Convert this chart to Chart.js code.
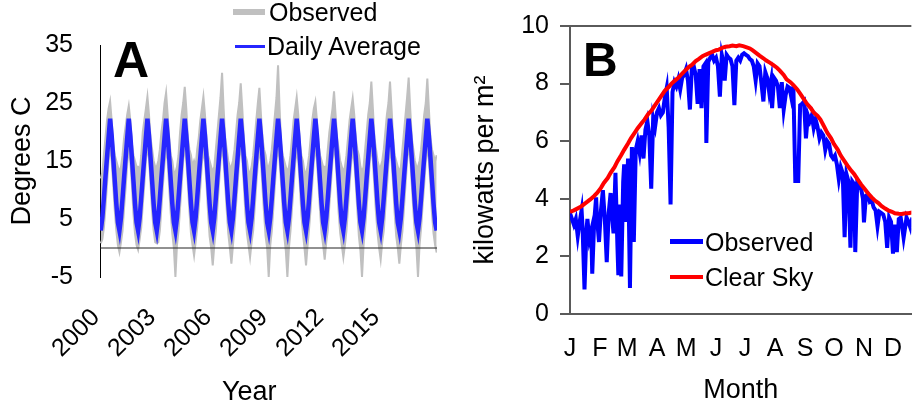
<!DOCTYPE html>
<html>
<head>
<meta charset="utf-8">
<title>Temperature and solar radiation</title>
<script src="https://cdn.jsdelivr.net/npm/chart.js@4.4.1/dist/chart.umd.min.js"></script>
<style>
  body { margin: 0; background: #fff; }
  #wrap { position: relative; width: 922px; height: 410px; overflow: hidden;
          font-family: 'Liberation Sans', Arial, sans-serif; color: #000; }
  canvas { position: absolute; top: 0; }
  .lbl { position: absolute; white-space: nowrap; font-size: 25px; line-height: 30px; }
  .bar { position: absolute; }
  .panel { position: absolute; font-weight: bold; line-height: 1; }
</style>
</head>
<body>
<div id="wrap">
  <canvas id="tempChart" width="460" height="410" style="left:0"></canvas>
  <canvas id="solarChart" width="462" height="410" style="left:460px"></canvas>

  <div class="panel" style="left:113px; top:35px; font-size:50px;">A</div>
  <div class="bar" style="left:233px; top:9px; width:32px; height:6px; background:#c0c0c0;"></div>
  <div class="lbl" style="left:269px; top:-3px;">Observed</div>
  <div class="bar" style="left:235px; top:45px; width:30px; height:3px; background:#2626ff;"></div>
  <div class="lbl" style="left:267px; top:31px;">Daily Average</div>
  <div class="lbl" style="left:222px; top:375px; font-size:27px; line-height:32px;">Year</div>

  <div class="panel" style="left:583px; top:36px; font-size:48px;">B</div>
  <div class="bar" style="left:670px; top:239px; width:33px; height:5px; background:#0000ff;"></div>
  <div class="lbl" style="left:705px; top:227px;">Observed</div>
  <div class="bar" style="left:670px; top:275px; width:33px; height:4px; background:#ff0000;"></div>
  <div class="lbl" style="left:705px; top:262px;">Clear Sky</div>
</div>
<script>
Chart.defaults.font.family = "'Liberation Sans', Arial, sans-serif";
Chart.defaults.color = '#000';

// ---- panel A : air temperature ----
var firstYear = 2000;
var yearTicks = [2000, 2003, 2006, 2009, 2012, 2015];
var tempTicks = [-5, 5, 15, 25, 35];

// daily average by month of the year (the same curve every year)
var dailyAvgByMonth = [3.0, 5.2, 8.6, 12.2, 15.6, 19.0, 22.3, 19.4, 15.6, 11.6, 7.6, 4.4];

// observed daily values: top and bottom of the spread, one row per year, Jan..Dec
var obsHigh = [
  [12, 13, 16, 19, 22, 24, 25.3, 22, 18, 16, 15, 14],
  [13, 14, 16, 19, 21, 23, 24.5, 22, 18, 16, 15, 14],
  [14, 13, 16, 20, 22, 24, 26.1, 23, 19, 17, 15, 14],
  [14, 15, 17, 20, 22, 25, 26.8, 23, 19, 16, 15, 13],
  [13, 14, 16, 20, 23, 25, 27.8, 24, 19, 17, 16, 14],
  [15, 14, 17, 19, 22, 24, 26.1, 23, 19, 16, 15, 14],
  [13, 14, 17, 20, 23, 26, 30.2, 24, 19, 17, 15, 14],
  [14, 15, 17, 20, 23, 25, 28.4, 24, 19, 16, 15, 13],
  [13, 14, 16, 19, 22, 25, 27.6, 23, 19, 17, 16, 14],
  [14, 15, 17, 20, 23, 26, 31.5, 24, 18, 16, 15, 14],
  [13, 14, 16, 19, 22, 24, 26.0, 23, 18, 16, 15, 13],
  [13, 14, 16, 19, 22, 24, 25.2, 22, 18, 16, 15, 14],
  [14, 14, 17, 20, 22, 24, 27.0, 23, 19, 17, 15, 14],
  [13, 14, 16, 19, 22, 24, 25.8, 23, 19, 17, 16, 14],
  [13, 14, 17, 20, 23, 25, 28.7, 24, 19, 17, 15, 14],
  [14, 15, 17, 20, 23, 25, 28.7, 24, 19, 16, 15, 14],
  [13, 14, 17, 20, 23, 26, 29.4, 24, 19, 17, 15, 14],
  [14, 15, 17, 20, 23, 25, 29.2, 24, 19, 17, 16, 15],
  [16]
];
var obsLow = [
  [0.8, 1.5, 3.5, 7, 11, 15, 17.5, 15, 11, 6.5, 3, 0.5],
  [-0.7, 1, 3, 7, 10.5, 14.5, 17, 15, 11, 6, 2.5, 0.5],
  [-0.3, 1.5, 3.5, 7.5, 11, 15, 17.5, 15.5, 11, 6.5, 3, 1],
  [0.8, 1, 3, 7, 11, 14.5, 17, 15, 10.5, 6, 2.5, 0],
  [-5, 0.5, 3, 7, 11, 15, 17.5, 15, 11, 6.5, 2.5, 0.5],
  [-1.3, 1, 3.5, 7, 10.5, 14.5, 17, 15, 11, 6, 2, 0],
  [-3, 0.5, 3, 7, 11, 15, 17.5, 15, 11, 6.5, 2.5, 0],
  [-2.7, 0.5, 3.5, 7.5, 11, 15, 17.5, 15.5, 11, 6, 2.5, 0.5],
  [-1.6, 1, 3, 7, 11, 14.5, 17, 15, 10.5, 6, 2, 0],
  [-5, 0.5, 3, 7, 11, 15, 17.5, 15, 11, 6.5, 2, -0.5],
  [-5, 0, 3, 7, 10.5, 14.5, 17, 15, 11, 6, 2.5, 0],
  [-3, 0.5, 3.5, 7, 11, 15, 17.5, 15, 11, 6.5, 2.5, 0.5],
  [-2, 1, 3, 7.5, 11, 15, 17.5, 15.5, 11, 6, 2.5, 0.5],
  [-1.6, 0.5, 3, 7, 11, 14.5, 17, 15, 11, 6.5, 2, -0.5],
  [-5, 0.5, 3.5, 7, 11, 15, 17.5, 15, 10.5, 6, 2.5, 0],
  [-2, 1, 3, 7, 10.5, 14.5, 17, 15, 11, 6, 2, 0],
  [-2.7, 0.5, 3, 7, 11, 15, 17.5, 15.5, 11, 6.5, 2.5, 0],
  [-5, 0.5, 3.5, 7.5, 11, 15, 17.5, 15, 11, 6, 2.5, 0.5],
  [-0.8]
];
var lastYearValue = 2018.06;

// ---- panel B : solar radiation ----
var monthStarts = [0, 31, 59, 90, 120, 151, 181, 212, 243, 273, 304, 334];
var monthLetters = ['J', 'F', 'M', 'A', 'M', 'J', 'J', 'A', 'S', 'O', 'N', 'D'];
var kwTicks = [0, 2, 4, 6, 8, 10];

// [day of year, kW per m2]
var clearSkyKw = [
  [0, 3.55], [4, 3.6], [7, 3.65], [11, 3.72], [14, 3.8], [18, 3.9], [21, 3.98], [25, 4.1],
  [28, 4.2], [32, 4.38], [35, 4.55], [39, 4.72], [42, 4.9], [46, 5.1], [49, 5.3], [53, 5.52],
  [56, 5.7], [60, 5.92], [63, 6.1], [67, 6.3], [70, 6.45], [74, 6.62], [77, 6.75], [81, 6.95],
  [84, 7.05], [88, 7.25], [91, 7.4], [95, 7.6], [98, 7.75], [102, 7.88], [105, 8.0], [109, 8.12],
  [112, 8.2], [116, 8.35], [119, 8.45], [123, 8.58], [126, 8.65], [130, 8.78], [133, 8.85],
  [137, 8.95], [140, 9.0], [144, 9.06], [147, 9.1], [151, 9.16], [154, 9.18], [158, 9.25],
  [161, 9.28], [165, 9.3], [168, 9.32], [172, 9.3], [175, 9.33], [179, 9.3], [182, 9.27],
  [186, 9.22], [189, 9.15], [193, 9.05], [196, 8.97], [200, 8.88], [203, 8.8], [207, 8.72],
  [210, 8.65], [214, 8.55], [217, 8.45], [221, 8.3], [224, 8.15], [228, 8.05], [231, 7.95],
  [235, 7.8], [238, 7.65], [242, 7.45], [245, 7.3], [249, 7.15], [252, 7.0], [256, 6.88],
  [259, 6.75], [263, 6.5], [266, 6.3], [270, 6.1], [273, 5.9], [277, 5.7], [280, 5.5],
  [284, 5.3], [287, 5.15], [291, 4.97], [294, 4.85], [298, 4.65], [301, 4.5], [305, 4.33],
  [308, 4.2], [312, 4.05], [315, 3.95], [319, 3.85], [322, 3.75], [326, 3.66], [329, 3.6],
  [333, 3.55], [336, 3.5], [340, 3.48], [343, 3.47], [347, 3.5], [350, 3.5], [354, 3.53],
  [357, 3.55], [364, 3.55]
];
var observedKw = [
  [0, 3.5], [2, 3.3], [4, 3.1], [6, 3.3], [8, 2.7], [10, 3.2], [12, 3.6], [13, 3.0], [15, 0.85],
  [17, 2.9], [18, 3.3], [20, 2.6], [22, 2.9], [23, 1.4], [25, 3.2], [27, 4.05], [28, 3.3],
  [30, 2.5], [32, 3.6], [34, 4.3], [36, 3.3], [38, 1.8], [40, 3.5], [42, 4.2], [44, 3.2],
  [45, 2.8], [47, 4.9], [49, 2.4], [50, 1.35], [52, 3.8], [53, 1.3], [55, 4.6], [56, 5.2],
  [58, 3.2], [60, 5.4], [62, 0.9], [64, 5.8], [66, 2.5], [68, 5.7], [70, 6.0], [72, 5.6],
  [74, 6.2], [76, 5.4], [78, 6.4], [80, 6.7], [82, 6.2], [84, 4.35], [86, 6.8], [88, 6.5],
  [90, 7.0], [92, 7.15], [94, 6.9], [96, 7.0], [98, 7.5], [100, 7.85], [102, 6.5], [104, 3.8],
  [106, 7.7], [108, 8.05], [110, 7.9], [112, 8.15], [114, 7.8], [116, 8.2], [118, 8.3],
  [120, 8.5], [122, 8.1], [124, 7.1], [126, 8.55], [128, 8.6], [130, 8.3], [132, 7.3],
  [134, 8.5], [136, 7.15], [138, 8.6], [140, 8.7], [141, 5.94], [143, 8.75], [145, 8.9],
  [147, 9.0], [149, 8.8], [151, 8.9], [153, 8.6], [155, 7.55], [157, 9.0], [159, 8.7],
  [160, 8.1], [162, 9.0], [164, 8.9], [166, 8.85], [168, 8.6], [170, 7.25], [172, 8.8],
  [174, 8.9], [176, 8.8], [178, 9.0], [180, 9.05], [182, 9.0], [184, 8.95], [186, 8.85],
  [188, 8.8], [190, 8.6], [192, 8.1], [194, 8.7], [196, 8.6], [198, 8.0], [200, 7.38],
  [202, 8.4], [204, 8.2], [206, 7.7], [208, 8.1], [209, 7.15], [211, 8.2], [213, 8.1],
  [215, 7.9], [217, 7.15], [219, 8.05], [221, 7.1], [223, 7.6], [225, 7.9], [227, 7.85],
  [229, 7.5], [231, 7.9], [233, 4.62], [236, 4.62], [238, 7.25], [240, 7.3], [242, 7.38],
  [244, 6.1], [246, 6.9], [248, 6.7], [250, 6.9], [252, 6.46], [254, 6.76], [256, 6.5],
  [258, 6.1], [260, 6.3], [262, 6.2], [264, 5.7], [266, 6.0], [268, 5.9], [270, 5.5],
  [272, 5.4], [274, 5.5], [276, 5.2], [278, 4.68], [280, 5.1], [282, 4.9], [284, 2.67],
  [286, 4.85], [288, 4.6], [290, 2.3], [292, 4.6], [294, 4.5], [295, 2.15], [297, 4.5],
  [299, 4.4], [301, 4.35], [303, 4.0], [304, 3.18], [306, 4.1], [308, 4.15], [310, 3.9],
  [312, 3.95], [314, 3.7], [316, 3.6], [318, 3.05], [320, 3.55], [322, 3.5], [324, 3.45],
  [326, 3.2], [328, 2.3], [330, 3.35], [332, 3.2], [334, 2.1], [336, 3.1], [338, 2.15],
  [340, 3.3], [342, 3.35], [344, 2.9], [345, 2.65], [347, 3.1], [348, 3.35], [350, 3.2],
  [352, 3.0], [354, 3.35], [356, 3.4]
];

// turn the month rows into x/y points (x in decimal years)
function yearRowsToPoints(rows) {
  var pts = [];
  rows.forEach(function (row, r) {
    row.forEach(function (v, m) {
      pts.push({ x: firstYear + r + (m + 0.5) / 12, y: v });
    });
  });
  return pts;
}
// the daily average repeats over the same months as the observations
var avgRows = obsHigh.map(function (row) {
  return row.map(function (v, m) { return dailyAvgByMonth[m]; });
});
function pairsToPoints(pairs) {
  return pairs.map(function (p) { return { x: p[0], y: p[1] }; });
}

var lineStyle = { pointRadius: 0, tension: 0, fill: false };

new Chart(document.getElementById('tempChart'), {
  type: 'line',
  data: {
    datasets: [
      Object.assign({ label: 'zero', data: [{ x: firstYear, y: 0 }, { x: lastYearValue, y: 0 }],
        borderColor: '#222', borderWidth: 1 }, lineStyle),
      Object.assign({ label: 'Daily Average', data: yearRowsToPoints(avgRows),
        borderColor: '#2626ff', borderWidth: 4.5 }, lineStyle),
      Object.assign({}, lineStyle, { label: 'Observed', data: yearRowsToPoints(obsHigh),
        borderColor: '#c0c0c0', backgroundColor: '#c0c0c0', borderWidth: 2, fill: '+1' }),
      Object.assign({ label: 'Observed low', data: yearRowsToPoints(obsLow),
        borderColor: '#c0c0c0', borderWidth: 2 }, lineStyle)
    ]
  },
  options: {
    responsive: false,
    animation: false,
    layout: { padding: { top: 45, right: 23, bottom: 0, left: 0 } },
    plugins: { legend: { display: false }, tooltip: { enabled: false } },
    scales: {
      x: {
        type: 'linear', min: firstYear, max: lastYearValue,
        grid: { display: false, drawTicks: false },
        border: { display: false },
        afterBuildTicks: function (s) { s.ticks = yearTicks.map(function (v) { return { value: v }; }); },
        afterFit: function (s) { s.height = 133; },
        ticks: { autoSkip: false, minRotation: 45, maxRotation: 45, padding: 26, labelOffset: -4,
                 font: { size: 25 }, callback: function (v) { return String(v); } }
      },
      y: {
        min: -5, max: 35,
        afterBuildTicks: function (s) { s.ticks = tempTicks.map(function (v) { return { value: v }; }); },
        afterFit: function (s) { s.width = 100; },
        border: { display: true, color: '#000', width: 1 },
        grid: { display: false, drawTicks: false },
        ticks: { padding: 27, font: { size: 25 } },
        title: { display: true, text: 'Degrees C', font: { size: 27 }, padding: { top: 6, bottom: 0 } }
      }
    }
  }
});

new Chart(document.getElementById('solarChart'), {
  type: 'line',
  data: {
    datasets: [
      Object.assign({ label: 'Clear Sky', data: pairsToPoints(clearSkyKw),
        borderColor: '#ff0000', borderWidth: 4 }, lineStyle),
      Object.assign({ label: 'Observed', data: pairsToPoints(observedKw),
        borderColor: '#0000ff', borderWidth: 4 }, lineStyle)
    ]
  },
  options: {
    responsive: false,
    animation: false,
    layout: { padding: { top: 24, right: 0, bottom: 0, left: 0 } },
    plugins: { legend: { display: false }, tooltip: { enabled: false } },
    scales: {
      x: {
        type: 'linear', min: 0, max: 353,
        grid: { display: false, drawTicks: false },
        border: { display: true, color: '#5a5a5a', width: 2 },
        afterBuildTicks: function (s) { s.ticks = monthStarts.map(function (v) { return { value: v }; }); },
        afterFit: function (s) { s.height = 96; },
        ticks: { autoSkip: false, maxRotation: 0, padding: 20, font: { size: 25 },
                 callback: function (v, i) { return monthLetters[i]; } },
        title: { display: true, text: 'Month', font: { size: 27 }, padding: { top: 0, bottom: 3 } }
      },
      y: {
        min: 0, max: 10,
        afterBuildTicks: function (s) { s.ticks = kwTicks.map(function (v) { return { value: v }; }); },
        afterFit: function (s) { s.width = 110; },
        border: { display: true, color: '#5a5a5a', width: 2 },
        grid: {
          lineWidth: 2, tickLength: 10, tickColor: '#5a5a5a', tickWidth: 2,
          color: function (c) {
            return c.tick && (c.tick.value === 0 || c.tick.value === 10) ? '#5a5a5a' : 'rgba(0,0,0,0)';
          }
        },
        ticks: { padding: 11, font: { size: 25 } },
        title: { display: true, text: 'kilowatts per m\u00b2', font: { size: 27 }, padding: { top: 9, bottom: 0 } }
      }
    }
  }
});
</script>
</body>
</html>
